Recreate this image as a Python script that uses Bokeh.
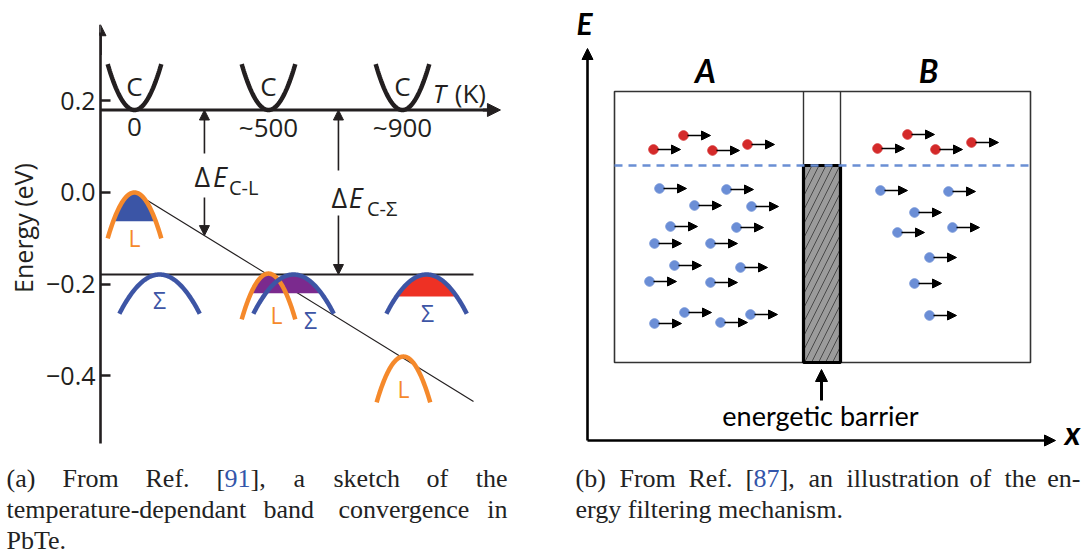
import numpy as np
from bokeh.plotting import figure
from bokeh.models import (Range1d, Arrow, NormalHead, ColumnDataSource,
                          CustomJSTickFormatter, FixedTicker)
from bokeh.layouts import column, row
from bokeh.embed import file_html
from bokeh.resources import INLINE
from bokeh.core.properties import value

# ---------------- Panel (a) data : band energies vs temperature ----------------
slot = [0.0, 1.0, 2.0]                 # temperature slots on the T axis
temp_labels = ["0", "~500", "~900"]
E_C = [0.18, 0.18, 0.18]              # conduction band minimum (eV)
L_pos = [0.0, 1.0, 2.007]
E_L = [0.0, -0.177, -0.358]           # L valence band maximum (eV)
S_pos = [0.187, 1.187, 2.18]
E_S = [-0.179, -0.179, -0.179]        # Sigma valence band maximum (eV)
k_C, k_L, k_S = 2.5, 2.5, 0.95        # band curvatures
hw_C, hw_L, hw_S = 0.2, 0.2, 0.3      # drawn half widths
fill_level = [-0.063, -0.22, -0.227]  # carrier filling level
fill_colors = ["#3b55a6", "#7b2a8e", "#ee3124"]
trend_x = [0.097, 2.53]               # L band trend line
trend_E = [-0.0175, -0.456]
dE_CL_x = 0.522
dE_CS_x = 1.522
energy_ticks = [0.2, 0.0, -0.2, -0.4]
L_label_x = [0.0, 1.06, 2.007]
L_label_E = [-0.100, -0.268, -0.428]
S_label_x = [0.187, 1.313, 2.187]
S_label_E = [-0.234, -0.279, -0.262]

# ---------------- Panel (b) data : carriers in regions A and B ----------------
redA_x = [1.32, 1.92, 2.50, 3.20]
redA_E = [5.82, 6.10, 5.80, 5.92]
blueA_x = [1.44, 2.78, 2.14, 3.28, 1.66, 2.98, 1.34, 2.46, 1.74, 3.06, 1.24, 2.46, 1.34, 1.94, 2.66, 3.26]
blueA_E = [5.04, 5.02, 4.70, 4.68, 4.28, 4.26, 3.94, 3.94, 3.50, 3.46, 3.18, 3.16, 2.34, 2.56, 2.36, 2.52]
redB_x = [5.80, 6.40, 6.96, 7.68]
redB_E = [5.84, 6.12, 5.82, 5.96]
blueB_x = [5.86, 7.22, 6.54, 6.20, 7.30, 6.84, 6.54, 6.84]
blueB_E = [5.00, 4.98, 4.56, 4.16, 4.26, 3.66, 3.14, 2.50]
box_x = [0.54, 8.86]
box_E = [1.56, 6.98]
barrier_x = [4.32, 5.06]
barrier_top = 5.5

FONT = "Open Sans"
BLACK = "#231f20"
ORANGE = "#f5892b"
SBLUE = "#3d55a5"

# ======================= Figure (a) =======================
x0 = -0.2537
pa = figure(width=540, height=455, x_range=Range1d(x0, 3.0299), y_range=Range1d(-0.5739, 0.4189),
            output_backend="svg", toolbar_location=None, x_axis_location=None,
            min_border_left=100, min_border_right=0, min_border_top=0, min_border_bottom=0)
pa.grid.visible = False
pa.outline_line_color = None
ax = pa.yaxis[0]
ax.ticker = FixedTicker(ticks=energy_ticks)
ax.formatter = CustomJSTickFormatter(code="return tick.toFixed(1).replace('-', '\u2212');")
ax.bounds = (-0.548, 0.35)
ax.axis_line_width = 2.6
ax.axis_line_color = BLACK
ax.major_tick_in = 10
ax.major_tick_out = 0
ax.major_tick_line_width = 2.6
ax.major_tick_line_color = BLACK
ax.minor_tick_line_color = None
ax.major_label_text_font = FONT
ax.major_label_text_font_size = "25px"
ax.major_label_text_color = BLACK
ax.major_label_standoff = 5
ax.axis_label = "Energy (eV)"
ax.axis_label_text_font = FONT
ax.axis_label_text_font_size = "25px"
ax.axis_label_text_font_style = "normal"
ax.axis_label_text_color = BLACK
ax.axis_label_standoff = 3

pa.add_layout(Arrow(end=NormalHead(size=11, fill_color=BLACK, line_color=BLACK),
                    x_start=x0, y_start=0.30, x_end=x0, y_end=0.366,
                    line_width=2.6, line_color=BLACK))

# trend line of L band
pa.line(trend_x, trend_E, line_color=BLACK, line_width=1.2)
# Sigma level line
pa.line([x0, trend_x[1]], [E_S[0], E_S[0]], line_color=BLACK, line_width=2.2)
# T axis at conduction band minimum
pa.line([x0, 2.70], [E_C[0], E_C[0]], line_color=BLACK, line_width=3)
pa.add_layout(Arrow(end=NormalHead(size=13, fill_color=BLACK, line_color=BLACK),
                    x_start=2.6, y_start=E_C[0], x_end=2.731, y_end=E_C[0],
                    line_width=3, line_color=BLACK))

def band(center, peak, k, hw, sign):
    xx = np.linspace(center - hw, center + hw, 80)
    return xx, peak + sign * k * (xx - center) ** 2

# carrier fillings
xx = np.linspace(L_pos[0] - hw_L, L_pos[0] + hw_L, 120)
top = np.maximum(E_L[0] - k_L * (xx - L_pos[0]) ** 2, fill_level[0])
pa.varea(xx, y1=np.full_like(xx, fill_level[0]), y2=top, fill_color=fill_colors[0])
xx = np.linspace(L_pos[1] - hw_L, S_pos[1] + hw_S, 200)
top = np.maximum.reduce([E_L[1] - k_L * (xx - L_pos[1]) ** 2,
                         E_S[1] - k_S * (xx - S_pos[1]) ** 2,
                         np.full_like(xx, fill_level[1])])
pa.varea(xx, y1=np.full_like(xx, fill_level[1]), y2=top, fill_color=fill_colors[1])
xx = np.linspace(S_pos[2] - hw_S, S_pos[2] + hw_S, 160)
top = np.maximum(E_S[2] - k_S * (xx - S_pos[2]) ** 2, fill_level[2])
pa.varea(xx, y1=np.full_like(xx, fill_level[2]), y2=top, fill_color=fill_colors[2])

# bands
for i in range(3):
    bx, by = band(slot[i], E_C[i], k_C, hw_C, +1)
    pa.line(bx, by, line_color=BLACK, line_width=4.5)
for i in range(3):
    bx, by = band(L_pos[i], E_L[i], k_L, hw_L, -1)
    pa.line(bx, by, line_color=ORANGE, line_width=4.5)
for i in range(3):
    bx, by = band(S_pos[i], E_S[i], k_S, hw_S, -1)
    pa.line(bx, by, line_color=SBLUE, line_width=4.5)

# labels
pa.text(x=slot, y=[0.233] * 3, text=["C"] * 3, text_align="center", text_baseline="middle",
        text_font=value(FONT), text_font_size="26px", text_color=BLACK)
pa.text(x=slot, y=[0.142] * 3, text=temp_labels, text_align="center", text_baseline="middle",
        text_font=value(FONT), text_font_size="26px", text_color=BLACK)
pa.text(x=[2.225], y=[0.218], text=["T"], text_align="left", text_baseline="middle",
        text_font=value(FONT), text_font_size="26px", text_font_style="italic", text_color=BLACK)
pa.text(x=[2.39], y=[0.218], text=["(K)"], text_align="left", text_baseline="middle",
        text_font=value(FONT), text_font_size="26px", text_color=BLACK)
pa.text(x=L_label_x, y=L_label_E, text=["L"] * 3, text_align="center", text_baseline="middle",
        text_font=value(FONT), text_font_size="23px", text_color=ORANGE)
pa.text(x=S_label_x, y=S_label_E, text=["\u03a3"] * 3, text_align="center", text_baseline="middle",
        text_font=value(FONT), text_font_size="23px", text_color=SBLUE)

# Delta E arrows
E_trend_CL = float(np.interp(dE_CL_x, trend_x, trend_E))
for (xs, y_a, y_b, y_c, y_d) in [(dE_CL_x, 0.085, E_C[0], -0.011, E_trend_CL),
                                 (dE_CS_x, 0.048, E_C[0], -0.050, E_S[0])]:
    pa.add_layout(Arrow(end=NormalHead(size=10, fill_color=BLACK, line_color=BLACK),
                        x_start=xs, y_start=y_a, x_end=xs, y_end=y_b, line_width=1.6, line_color=BLACK))
    pa.add_layout(Arrow(end=NormalHead(size=10, fill_color=BLACK, line_color=BLACK),
                        x_start=xs, y_start=y_c, x_end=xs, y_end=y_d, line_width=1.6, line_color=BLACK))

pa.text(x=[0.448, 1.47], y=[0.034, -0.012], text=["\u0394", "\u0394"], text_align="left",
        text_baseline="middle", text_font=value(FONT), text_font_size="27px", text_color=BLACK)
pa.text(x=[0.585, 1.598], y=[0.034, -0.012], text=["E", "E"], text_align="left",
        text_baseline="middle", text_font=value(FONT), text_font_size="27px",
        text_font_style="italic", text_color=BLACK)
pa.text(x=[0.705, 1.735], y=[0.010, -0.034], text=["C-L", "C-\u03a3"], text_align="left",
        text_baseline="middle", text_font=value(FONT), text_font_size="20px", text_color=BLACK)

# ======================= Figure (b) =======================
pb = figure(width=545, height=455, x_range=Range1d(-0.94, 9.96), y_range=Range1d(-0.3, 8.8),
            output_backend="svg", toolbar_location=None, x_axis_location=None, y_axis_location=None,
            min_border_left=0, min_border_right=0, min_border_top=0, min_border_bottom=0)
pb.grid.visible = False
pb.outline_line_color = None

# E and x axes
pb.add_layout(Arrow(end=NormalHead(size=11, fill_color="black", line_color="black"),
                    x_start=0, y_start=0, x_end=0, y_end=7.84, line_width=2.6, line_color="black"))
pb.add_layout(Arrow(end=NormalHead(size=11, fill_color="black", line_color="black"),
                    x_start=0, y_start=0, x_end=9.36, y_end=0, line_width=2.6, line_color="black"))

pb.quad(left=box_x[0], right=box_x[1], bottom=box_E[0], top=box_E[1],
        fill_color=None, line_color="#333333", line_width=1.6)
pb.segment(x0=barrier_x, y0=[barrier_top] * 2, x1=barrier_x, y1=[box_E[1]] * 2,
           line_color="#333333", line_width=1.4)
pb.quad(left=barrier_x[0], right=barrier_x[1], bottom=box_E[0], top=barrier_top,
        fill_color="#9b9b9b", hatch_pattern="/", hatch_color="#333333", hatch_weight=0.8,
        hatch_scale=14, line_color="black", line_width=3.2)
pb.line(box_x, [barrier_top] * 2, line_color="#6a8fd4", line_width=2.4, line_dash="8 6")

def carriers(xs, es, color):
    xs = np.array(xs)
    src = ColumnDataSource(dict(xs=xs + 0.08, xe=xs + 0.54, e=es))
    pb.add_layout(Arrow(end=NormalHead(size=9, fill_color="black", line_color="black"),
                        x_start="xs", y_start="e", x_end="xe", y_end="e", source=src,
                        line_width=1.3, line_color="black"))
    pb.scatter(xs, es, size=9.5, fill_color=color, line_color=color)

carriers(redA_x, redA_E, "#d42a2a")
carriers(blueA_x, blueA_E, "#6b8ed6")
carriers(redB_x, redB_E, "#d42a2a")
carriers(blueB_x, blueB_E, "#6b8ed6")

pb.text(x=[2.36, 6.82], y=[7.4, 7.4], text=["A", "B"], text_align="center", text_baseline="middle",
        text_font=value("Lato"), text_font_size="32px", text_font_style="bold italic", text_color="black")
pb.text(x=[-0.06], y=[8.36], text=["E"], text_align="center", text_baseline="middle",
        text_font=value("Lato"), text_font_size="30px", text_font_style="bold italic", text_color="black")
pb.text(x=[9.70], y=[0.16], text=["x"], text_align="center", text_baseline="middle",
        text_font=value("Lato"), text_font_size="32px", text_font_style="bold italic", text_color="black")
pb.add_layout(Arrow(end=NormalHead(size=12, fill_color="black", line_color="black"),
                    x_start=4.68, y_start=0.8, x_end=4.68, y_end=1.42, line_width=3, line_color="black"))
pb.text(x=[4.66], y=[0.5], text=["energetic barrier"], text_align="center", text_baseline="middle",
        text_font=value("Lato"), text_font_size="27px", text_color="black")

# ======================= Captions =======================
pc = figure(width=1085, height=99, x_range=Range1d(0, 1085), y_range=Range1d(554, 455),
            output_backend="svg", toolbar_location=None, x_axis_location=None, y_axis_location=None,
            min_border_left=0, min_border_right=0, min_border_top=0, min_border_bottom=0)
pc.grid.visible = False
pc.outline_line_color = None
CAP = dict(text_font=value("Liberation Serif"), text_font_size="26px", text_baseline="middle")
GREY = "#222222"
REFBLUE = "#3355aa"
pc.text(x=[6, 62, 145, 216, 250, 293, 333, 426], y=[478] * 8,
        text=["(a)", "From", "Ref.", "[", "],", "a", "sketch", "of"], text_color=GREY,
        text_align="left", **CAP)
pc.text(x=[224], y=[478], text=["91"], text_color=REFBLUE, text_align="left", **CAP)
pc.text(x=[507], y=[478], text=["the"], text_color=GREY, text_align="right", **CAP)
pc.text(x=[6, 263, 338], y=[509] * 3, text=["temperature-dependant", "band", "convergence"],
        text_color=GREY, text_align="left", **CAP)
pc.text(x=[507], y=[509], text=["in"], text_color=GREY, text_align="right", **CAP)
pc.text(x=[6], y=[540], text=["PbTe."], text_color=GREY, text_align="left", **CAP)

pc.text(x=[575, 619, 688, 745, 779, 808, 846, 969, 1004], y=[478] * 9,
        text=["(b)", "From", "Ref.", "[", "],", "an", "illustration", "of", "the"],
        text_color=GREY, text_align="left", **CAP)
pc.text(x=[753], y=[478], text=["87"], text_color=REFBLUE, text_align="left", **CAP)
pc.text(x=[1080], y=[478], text=["en-"], text_color=GREY, text_align="right", **CAP)
pc.text(x=[575], y=[509], text=["ergy filtering mechanism."], text_color=GREY,
        text_align="left", **CAP)

layout = column(row(pa, pb), pc)
open("out.html", "w").write(file_html(layout, INLINE))
